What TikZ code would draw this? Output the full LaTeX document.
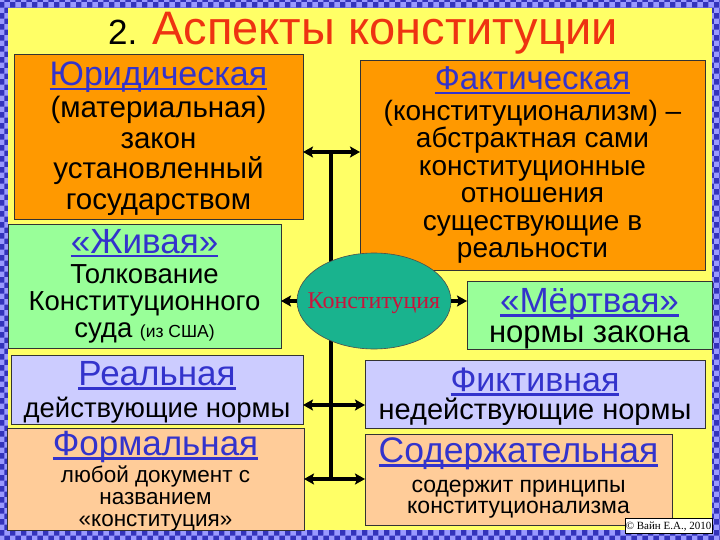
\documentclass[tikz,border=0pt]{standalone}
\usepackage{fontspec}
\setmainfont{Liberation Sans}
\newfontfamily\serifrm{Liberation Serif}
\usetikzlibrary{arrows.meta,patterns,shapes.geometric}
\definecolor{orangeF}{HTML}{FF9900}
\definecolor{greenF}{HTML}{99FF99}
\definecolor{lavF}{HTML}{CCCCFF}
\definecolor{peachF}{HTML}{FFCC99}
\definecolor{yellowBG}{HTML}{FFFF66}
\definecolor{hblue}{HTML}{3333CC}
\definecolor{tred}{HTML}{EE3311}
\definecolor{tealF}{HTML}{19B38E}
\definecolor{kred}{HTML}{C8143C}
\definecolor{bordB}{HTML}{3333BB}
\definecolor{bordL}{HTML}{9999FF}
\newcommand\hul[1]{\setbox0\hbox{#1}\rlap{\rule[-4.5pt]{\wd0}{2.2pt}}\box0}
\newcommand\fs[2]{\fontsize{#1}{#2}\selectfont}
\begin{document}
\begin{tikzpicture}[x=1pt,y=-1pt,
  box/.style={draw=black!80, line width=0.7pt, inner sep=0pt, outer sep=0pt},
  hd/.style={anchor=base, inner sep=0pt, text=hblue},
  txt/.style={anchor=base, inner sep=0pt, align=center, text=black},
  conn/.style={line width=3.5pt},
  arr/.style={line width=3.5pt, {Stealth[length=10pt,width=11pt,inset=2pt]}-{Stealth[length=10pt,width=11pt,inset=2pt]}},
  arrone/.style={line width=3.5pt, -{Stealth[length=10pt,width=11pt,inset=2pt]}}]
\useasboundingbox (0,0) rectangle (720,540);
% frame
\fill[bordB] (0,0) rectangle (720,540);
\fill[pattern=checkerboard, pattern color=bordL] (0,0) rectangle (720,540);
\fill[yellowBG] (8,8) rectangle (712,530);
% title
\node[anchor=base west, inner sep=0pt] (title) at (108,45)
  {{\fs{35}{40}2.}\hspace{15pt}{\color{tred}\fs{47}{50}Аспекты конституции}};
% boxes
\node[box, fill=orangeF, minimum width=289pt, minimum height=165pt] (jur) at (158.5,136.5) {};
\node[box, fill=greenF, minimum width=273pt, minimum height=124pt] (zhiv) at (144.5,286) {};
\node[box, fill=lavF, minimum width=292pt, minimum height=69pt] (real) at (157,389.5) {};
\node[box, fill=peachF, minimum width=297pt, minimum height=102pt] (form) at (155.5,479) {};
\node[box, fill=orangeF, minimum width=345pt, minimum height=210pt] (fakt) at (532.5,165) {};
\node[box, fill=greenF, minimum width=245pt, minimum height=68pt] (mert) at (589.5,315) {};
\node[box, fill=lavF, minimum width=340pt, minimum height=68pt] (fikt) at (535,394) {};
\node[box, fill=peachF, minimum width=307pt, minimum height=91pt] (sod) at (518.5,479.5) {};
% texts (multi-line nodes are anchored at the baseline of their last line)
\node[hd] (jurh) at (158.5,86) {\fs{34}{36}\hul{Юридическая}};
\node[txt, font=\fs{29.5}{30.5}] (jurb) at (158.5,209.5) {(материальная)\\закон\\установленный\\государством};
\node[hd] (zhivh) at (144.5,253) {\fs{35}{36}\hul{«Живая»}};
\node[txt, font=\fs{27.5}{27}] (zhivb) at (144.5,337) {Толкование\\Конституционного\\суда {\fs{17.5}{18}(из США)}};
\node[hd] (realh) at (157,385) {\fs{35}{36}\hul{Реальная}};
\node[txt, font=\fs{27.5}{28}] (realb) at (157,417) {действующие нормы};
\node[hd] (formh) at (155.5,455) {\fs{35}{36}\hul{Формальная}};
\node[txt, font=\fs{22.5}{22}] (formb) at (155.5,526) {любой документ с\\названием\\«конституция»};
\node[hd] (fakth) at (532.5,90) {\fs{33}{36}\hul{Фактическая}};
\node[txt, font=\fs{28}{27.6}] (faktb) at (532.5,258) {(конституционализм) –\\абстрактная сами\\конституционные\\отношения\\существующие в\\реальности};
\node[hd] (merth) at (589.5,312) {\fs{35}{36}\hul{«Мёртвая»}};
\node[txt, font=\fs{31}{32}] (mertb) at (589.5,342) {нормы закона};
\node[hd] (fikth) at (535,391) {\fs{34}{36}\hul{Фиктивная}};
\node[txt, font=\fs{29}{30}] (fiktb) at (535,419) {недействующие нормы};
\node[hd] (sodh) at (518.5,462) {\fs{35.5}{36}\hul{Содержательная}};
\node[txt, font=\fs{23}{21}] (sodb) at (518.5,513) {содержит принципы\\конституционализма};
% connectors
\coordinate (top) at (331,152);
\coordinate (mid) at (331,405);
\coordinate (bot) at (331,479);
\draw[conn] (top) -- (bot);
\node[ellipse, draw=black!70, line width=0.6pt, fill=tealF, inner sep=0pt, minimum width=154pt, minimum height=96pt] (ell) at (374,301) {};
\node[anchor=base, inner sep=0pt, text=kred] (ellt) at (374,308) {\serifrm\fs{24}{26}Конституция};
\draw[arr] (top -| jur.east) -- (top -| fakt.west);
\draw[arr] (mid -| real.east) -- (mid -| fikt.west);
\draw[arr] (bot -| form.east) -- (bot -| sod.west);
\draw[arrone] (ell.west) -- (ell.west -| zhiv.east);
\draw[arrone] (ell.east) -- (ell.east -| mert.west);
% copyright
\node[box, draw=black, fill=white, minimum width=87pt, minimum height=15pt] (copy) at (668.5,525.5) {};
\node[anchor=base, inner sep=0pt] (copyt) at (668.5,529.5) {\serifrm\fs{11}{12}© Вайн Е.А., 2010};
\end{tikzpicture}
\end{document}
